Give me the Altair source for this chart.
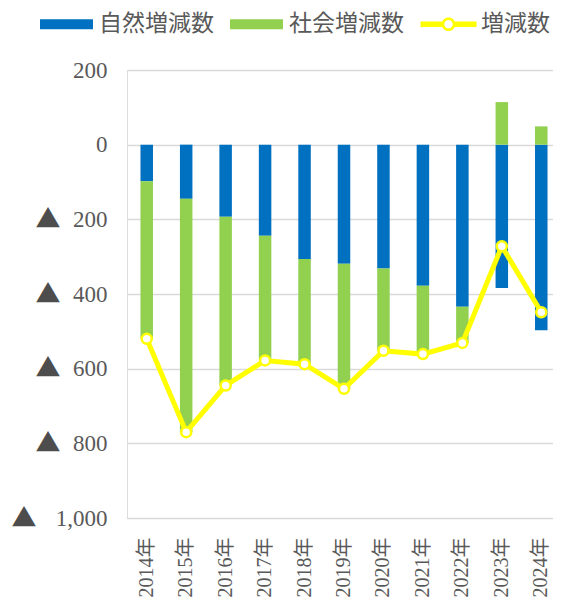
import math
import altair as alt
import pandas as pd

years = ["2014年", "2015年", "2016年", "2017年", "2018年", "2019年",
         "2020年", "2021年", "2022年", "2023年", "2024年"]
natural = [-98, -145, -193, -244, -306, -319, -332, -378, -434, -384, -497]
social = [-422, -625, -452, -334, -282, -335, -220, -183, -97, 114, 49]
total = [-520, -770, -645, -578, -588, -654, -552, -561, -531, -272, -449]
series_names = ["自然増減数", "社会増減数", "増減数"]
y_ticks = [-1000, -800, -600, -400, -200, 0, 200]

BLUE = "#0070C0"
GREEN = "#92D050"
YELLOW = "#FFFF00"
TEXT = "#595959"
GRID = "#D9D9D9"
NUM_FONT = "Liberation Serif"
X_FONT = "Liberation Serif, Noto Sans CJK JP"
JP_FONT = "Noto Sans CJK JP"

bar_rows = []
for i, yr in enumerate(years):
    bar_rows.append({"year": yr, "series": series_names[0], "value": natural[i], "ord": 0})
    bar_rows.append({"year": yr, "series": series_names[1], "value": social[i], "ord": 1})
bar_df = pd.DataFrame(bar_rows)
tot_df = pd.DataFrame({"year": years, "value": total})
leg_df = pd.DataFrame({"series": series_names})

# legend symbol shapes (units of 5px with symbolSize 100)
RECT_PATH = "M-5.3,-1.0L5.3,-1.0L5.3,1.0L-5.3,1.0Z"


def circle(r, cw=True, n=32):
    pts = []
    for k in range(n):
        a = 2 * math.pi * k / n
        if not cw:
            a = -a
        pts.append(f"{-r*math.cos(a):.3f},{-r*math.sin(a):.3f}")
    return "M" + "L".join(pts) + "Z"


LINE_PATH = ("M-5.6,-0.53L-1.0,-0.53L-1.0,0.53L-5.6,0.53Z"
             "M1.0,-0.53L5.6,-0.53L5.6,0.53L1.0,0.53Z"
             + circle(1.36, True) + circle(0.84, False))

x_enc = alt.X("year:N", sort=years,
              scale=alt.Scale(paddingInner=0, paddingOuter=0),
              axis=alt.Axis(title=None, labelAngle=-90, labelFont=X_FONT,
                            labelFontSize=20, labelColor=TEXT, labelPadding=19,
                            ticks=False, domain=False, grid=False))
y_scale = alt.Scale(domain=[-1000, 200], nice=False, zero=False)
y_axis_num = alt.Axis(title=None, values=y_ticks, orient="left",
                      labelExpr="format(abs(datum.value), ',')",
                      labelFont=NUM_FONT, labelFontSize=23, labelColor=TEXT,
                      labelPadding=20, ticks=False, domain=False,
                      gridColor=GRID, gridWidth=1.5)
y_axis_tri = alt.Axis(title=None, values=y_ticks, orient="left", grid=False,
                      labelExpr="datum.value < 0 ? '▲' : ''",
                      labelFont=JP_FONT, labelFontSize=25, labelColor="#4D4D4D",
                      labelPadding={"condition": {"test": "datum.value <= -1000", "value": 91},
                                    "value": 67},
                      ticks=False, domain=False)

bars = alt.Chart(bar_df).mark_bar(size=12.5).encode(
    x=x_enc,
    y=alt.Y("value:Q", stack="zero", scale=y_scale, axis=y_axis_num),
    color=alt.Color("series:N", scale=alt.Scale(domain=series_names[:2], range=[BLUE, GREEN]), legend=None),
    order=alt.Order("ord:Q"),
)

line = alt.Chart(tot_df).mark_line(color=YELLOW, strokeWidth=5).encode(
    x=x_enc, y=alt.Y("value:Q", scale=y_scale, axis=None))

points = alt.Chart(tot_df).mark_point(filled=True, fill="white", stroke=YELLOW,
                                      strokeWidth=2.5, size=100, opacity=1).encode(
    x=x_enc, y=alt.Y("value:Q", scale=y_scale, axis=y_axis_tri))

leg = alt.Legend(title=None, orient="none", legendX=-72, legendY=-57.5,
                 direction="horizontal", symbolSize=100, symbolStrokeWidth=0,
                 symbolOpacity=1, labelOffset=21, columnPadding=16,
                 labelFont=JP_FONT, labelFontSize=23, labelColor=TEXT, labelLimit=300)

legend_layer = alt.Chart(leg_df).transform_filter("false").mark_point(
    filled=True, strokeWidth=0, opacity=1).encode(
    color=alt.Color("series:N", scale=alt.Scale(domain=series_names, range=[BLUE, GREEN, YELLOW]), legend=leg),
    shape=alt.Shape("series:N", scale=alt.Scale(domain=series_names, range=[RECT_PATH, RECT_PATH, LINE_PATH]), legend=leg),
)

chart = alt.layer(bars, line, points, legend_layer).resolve_scale(
    color="independent", shape="independent"
).resolve_axis(y="independent").properties(
    width=434, height=448,
    autosize=alt.AutoSizeParams(type="none"),
    padding={"left": 119, "top": 62, "right": -8, "bottom": 80},
).configure_view(stroke=None).configure(background="white")

chart.save("out.html", embed_options={"renderer": "svg", "actions": False})
